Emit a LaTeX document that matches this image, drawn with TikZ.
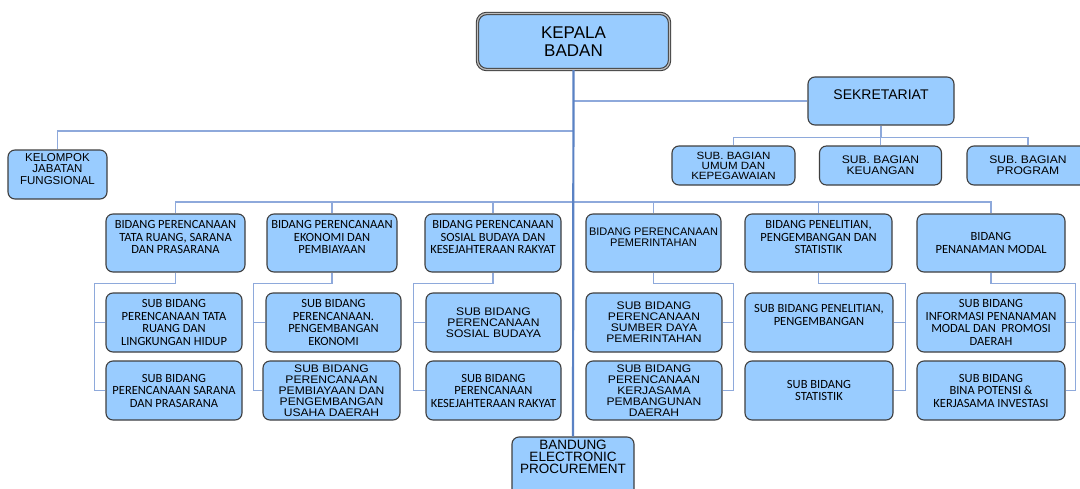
\documentclass[tikz,border=0pt]{standalone}
\usepackage{fontspec}
\setmainfont{Liberation Sans}
\newfontfamily\calib{Carlito}
\newfontfamily\arlebar[FakeStretch=1.1]{Liberation Sans}
\usetikzlibrary{calc}

\definecolor{isi}{HTML}{99CCFF}
\definecolor{tepi}{HTML}{3F3F3F}
\definecolor{garisbiru}{HTML}{8EA9DB}
\definecolor{batang}{HTML}{5A82C4}

\begin{document}
\begin{tikzpicture}[x=1pt,y=-1pt] %% bagan organisasi
	% \tikzset{
	% kotak/.style={draw,rounded corners},
	% }
	\tikzstyle{kotak}=[draw=tepi,fill=isi,rounded corners=7pt,line width=1.1pt,inner sep=0pt]
	\tikzstyle{ar}=[align=center,font=\fontsize{11}{11}\selectfont]
	\tikzstyle{arl}=[align=center,font=\arlebar\fontsize{11}{11}\selectfont]
	\tikzstyle{cb}=[align=center,font=\calib\fontsize{12.5}{12.5}\selectfont]
	\tikzstyle{bid}=[kotak,minimum height=58pt]
	\tikzstyle{sub}=[kotak,minimum height=59pt]
	\tikzstyle{garis}=[draw=garisbiru,line width=1.3pt]
	\clip (0,0) rectangle (1080,488);
	\fill[white] (0,0) rectangle (1080,488);

	% atas
	\node[kotak,ar,double=gray!50,double distance=1.2pt,rounded corners=9pt,minimum width=192pt,minimum height=56pt,font=\fontsize{17}{18}\selectfont] (kepala) at (573.5,41.5) {KEPALA\\BADAN};
	\node[kotak,minimum width=146pt,minimum height=48pt] (sek) at (881,101) {};
	\node[ar,font=\fontsize{14}{14}\selectfont] (sekt) at (881,95) {SEKRETARIAT};
	\node[kotak,minimum width=99pt,minimum height=49pt] (kel) at (57.5,174.5) {};
	\node[ar,font=\fontsize{11.5}{11.7}\selectfont] (kelt) at (57.5,169) {KELOMPOK\\JABATAN\\FUNGSIONAL};
	\node[kotak,arl,minimum width=123pt,minimum height=39pt,font=\arlebar\fontsize{10.5}{10}\selectfont] (bag1) at (733.5,165.5) {SUB. BAGIAN\\UMUM DAN\\KEPEGAWAIAN};
	\node[kotak,arl,minimum width=122pt,minimum height=39pt,font=\arlebar\fontsize{11}{11}\selectfont] (bag2) at (880.5,165.5) {SUB. BAGIAN\\KEUANGAN};
	\node[kotak,arl,minimum width=122pt,minimum height=39pt,font=\arlebar\fontsize{11}{11}\selectfont] (bag3) at (1028,165.5) {SUB. BAGIAN\\PROGRAM};

	% bidang
	\node[bid,minimum width=139pt] (b1) at (175.5,243) {};
	\node[cb] (b1t) at (175.5,237) {BIDANG PERENCANAAN\\TATA RUANG, SARANA\\DAN PRASARANA};
	\node[bid,minimum width=130pt] (b2) at (332,243) {};
	\node[cb] (b2t) at (332,237) {BIDANG PERENCANAAN\\EKONOMI DAN\\PEMBIAYAAN};
	\node[bid,minimum width=136pt] (b3) at (493,243) {};
	\node[cb] (b3t) at (493,237) {BIDANG PERENCANAAN\\SOSIAL BUDAYA DAN\\KESEJAHTERAAN RAKYAT};
	\node[bid,minimum width=135pt] (b4) at (653.5,243) {};
	\node[ar] (b4t) at (653.5,237) {BIDANG PERENCANAAN\\PEMERINTAHAN};
	\node[bid,minimum width=147pt] (b5) at (818.5,243) {};
	\node[cb] (b5t) at (818.5,237) {BIDANG PENELITIAN,\\PENGEMBANGAN DAN\\STATISTIK};
	\node[bid,cb,minimum width=148pt] (b6) at (991,243) {BIDANG\\PENANAMAN MODAL};

	% sub bidang
	\node[sub,cb,minimum width=136pt] (subA1) at (174,322.5) {SUB BIDANG\\PERENCANAAN TATA\\RUANG DAN\\LINGKUNGAN HIDUP};
	\node[sub,cb,minimum width=135pt] (subA2) at (333.5,322.5) {SUB BIDANG\\PERENCANAAN.\\PENGEMBANGAN\\EKONOMI};
	\node[sub,arl,minimum width=135pt] (subA3) at (493.5,322.5) {SUB BIDANG\\PERENCANAAN\\SOSIAL BUDAYA};
	\node[sub,arl,minimum width=136pt] (subA4) at (654,322.5) {SUB BIDANG\\PERENCANAAN\\SUMBER DAYA\\PEMERINTAHAN};
	\node[sub,minimum width=148pt] (subA5) at (819,322.5) {};
	\node[cb] (subA5t) at (819,315) {SUB BIDANG PENELITIAN,\\PENGEMBANGAN};
	\node[sub,cb,minimum width=148pt] (subA6) at (991,322.5) {SUB BIDANG\\INFORMASI PENANAMAN\\MODAL DAN~~PROMOSI\\DAERAH};

	\node[sub,cb,minimum width=136pt] (subB1) at (174,390.5) {SUB BIDANG\\PERENCANAAN SARANA\\DAN PRASARANA};
	\node[sub,arl,minimum width=137pt] (subB2) at (331.5,390.5) {SUB BIDANG\\PERENCANAAN\\PEMBIAYAAN DAN\\PENGEMBANGAN\\USAHA DAERAH};
	\node[sub,cb,minimum width=135pt] (subB3) at (493.5,390.5) {SUB BIDANG\\PERENCANAAN\\KESEJAHTERAAN RAKYAT};
	\node[sub,arl,minimum width=136pt] (subB4) at (654,390.5) {SUB BIDANG\\PERENCANAAN\\KERJASAMA\\PEMBANGUNAN\\DAERAH};
	\node[sub,cb,minimum width=148pt] (subB5) at (819,390.5) {SUB BIDANG\\STATISTIK};
	\node[sub,cb,minimum width=148pt] (subB6) at (991,390.5) {SUB BIDANG\\BINA POTENSI \&\\KERJASAMA INVESTASI};

	\node[sub,minimum width=122pt] (bep) at (573,466.5) {};
	\node[ar,font=\fontsize{13.5}{12}\selectfont] (bept) at (573,457) {BANDUNG\\ELECTRONIC\\PROCUREMENT};

	% garis
	\draw[garis] (kepala.south |- sek.west) -- (sek.west);
	\coordinate (kelbus) at (573,131);
	\draw[garis] (kelbus) -| (kel.north);
	\draw[garis] (sek.south) -- ++(0,12) coordinate (sekbus);
	\foreach \s in {bag1,bag2,bag3}
		\draw[garis] (sekbus) -| (\s.north);
	\coordinate (bidbus) at (573,202);
	\foreach \i in {1,...,6}
		\draw[garis] (bidbus) -| (b\i.north);
	\foreach \i/\dx in {1/-11,2/-9,3/-12} {
		\coordinate (sisi\i) at ([xshift=\dx pt]subB\i.west);
		\draw[garis] (b\i.south) -- ++(0,11) -| (sisi\i) -- (subB\i.west);
		\draw[garis] (sisi\i |- subA\i.west) -- (subA\i.west);
	}
	\foreach \i/\dx in {4/11,5/12,6/10} {
		\coordinate (sisi\i) at ([xshift=\dx pt]subB\i.east);
		\draw[garis] (b\i.south) -- ++(0,11) -| (sisi\i) -- (subB\i.east);
		\draw[garis] (sisi\i |- subA\i.east) -- (subA\i.east);
	}
	\draw[batang,line width=2.2pt] (kepala.south) -- (bep.north);
\end{tikzpicture}
\end{document}
